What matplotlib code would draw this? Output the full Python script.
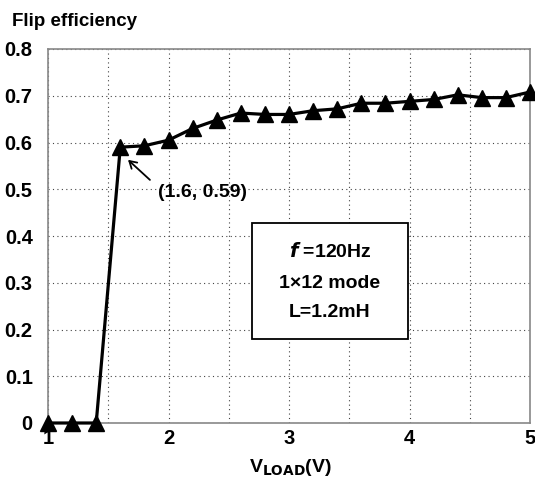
import matplotlib.pyplot as plt
from matplotlib.patches import Rectangle
import numpy as np

# flip efficiency vs load voltage
v_load = [1.0, 1.2, 1.4, 1.6, 1.8, 2.0, 2.2, 2.4, 2.6, 2.8, 3.0,
          3.2, 3.4, 3.6, 3.8, 4.0, 4.2, 4.4, 4.6, 4.8, 5.0]
efficiency = [0.0, 0.0, 0.0, 0.59, 0.593, 0.605, 0.63, 0.648, 0.663, 0.660, 0.660,
              0.668, 0.672, 0.684, 0.684, 0.688, 0.692, 0.702, 0.696, 0.696, 0.708]
x_ticks = [1, 2, 3, 4, 5]
y_ticks = [0, 0.1, 0.2, 0.3, 0.4, 0.5, 0.6, 0.7, 0.8]
y_labels = ["0", "0.1", "0.2", "0.3", "0.4", "0.5", "0.6", "0.7", "0.8"]

plt.rcParams['font.family'] = ['Liberation Sans', 'DejaVu Sans']
plt.rcParams['font.weight'] = 'bold'

W, H = 535, 479
fig = plt.figure(figsize=(W / 100, H / 100), dpi=100)
ax = fig.add_axes([48 / W, 56 / H, 482 / W, 374 / H])

ax.plot(v_load, efficiency, color='black', lw=2.3, marker='^', ms=11,
        clip_on=False, zorder=3)

ax.set_xlim(1, 5)
ax.set_ylim(0, 0.8)
ax.set_xticks(x_ticks)
ax.set_xticks(np.arange(1.5, 5, 1.0), minor=True)
ax.set_yticks(y_ticks)
ax.set_yticklabels(y_labels)
ax.tick_params(axis='both', length=0, labelsize=14.5)
ax.tick_params(axis='y', pad=11)
ax.tick_params(axis='x', pad=4)
ax.tick_params(axis='x', which='minor', length=0)
ax.grid(True, which='both', color='#444444', linestyle=(0, (1, 3)), lw=0.8)
for s in ax.spines.values():
    s.set_color('#888888')
    s.set_linewidth(1.2)

# axis labels
fig.text(290 / W, 1 - 467 / H, r"V$_{\mathbf{LOAD}}$(V)", fontsize=14,
         fontweight='bold', ha='center', va='center')
fig.text(12 / W, 1 - 22 / H, "Flip efficiency", fontsize=13.5,
         fontweight='bold', va='center', ha='left')

# annotation of the first non-zero point
ax.annotate("", xy=(1.664, 0.563), xytext=(1.846, 0.52),
            arrowprops=dict(arrowstyle='->,head_length=0.5,head_width=0.3',
                            color='black', lw=1.3, shrinkA=0, shrinkB=0))
ax.text(1.91, 0.494, "(1.6, 0.59)", fontsize=14, fontweight='bold',
        ha='left', va='center')

# parameter box
ax.add_patch(Rectangle((2.693, 0.18), 1.295, 0.248, fc='white', ec='black',
                       lw=1.3, zorder=4))
box_lines = [("$\\mathbfit{f}$ =120Hz", 0.366),
             ("1\u00d712 mode", 0.299),
             ("L=1.2mH", 0.237)]
for txt, yy in box_lines:
    ax.text(3.34, yy, txt, fontsize=14, fontweight='bold', ha='center',
            va='center', zorder=5)

fig.savefig("out.png", dpi=100)
